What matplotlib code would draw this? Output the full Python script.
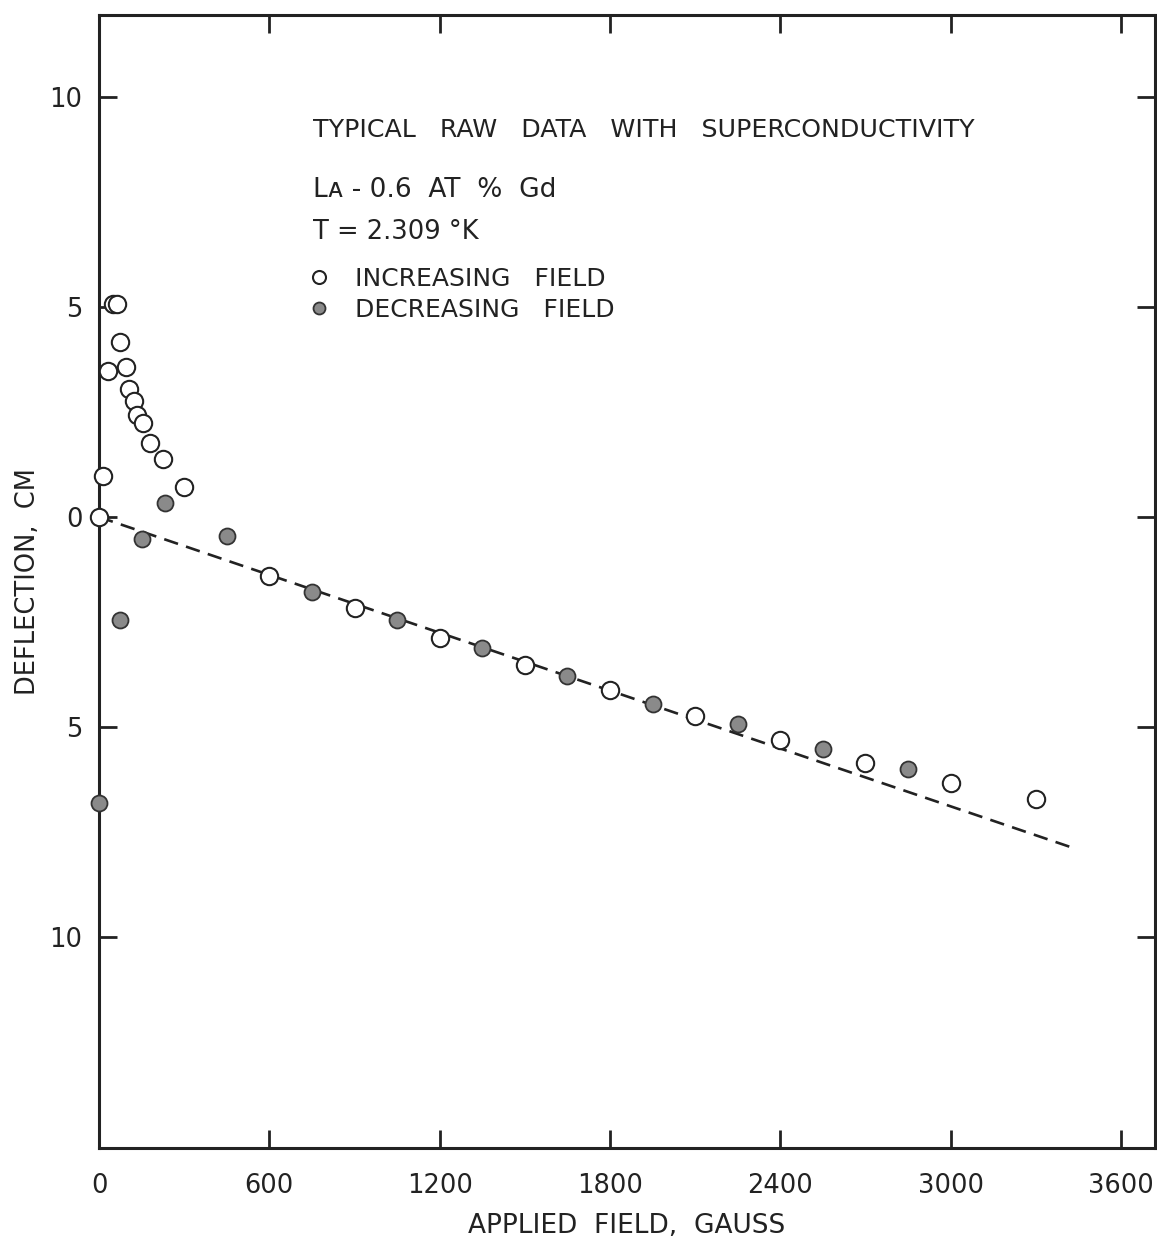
#!/usr/bin/env python
# -*- coding: utf-8 -*-

"""Typical raw data with superconductivity (La - 0.6 at % Gd, T = 2.309 K).

Deflection versus applied field for increasing and decreasing field,
with the dashed straight line through the normal-state points.
"""

import matplotlib
import matplotlib.pyplot as plt
import matplotlib.ticker

matplotlib.use("Agg")

# Increasing field (open circles).
inc_field = [0, 15, 33, 50, 65, 74, 94, 107, 123, 135, 154, 180, 225, 300,
             600, 900, 1200, 1500, 1800, 2100, 2400, 2700, 3000, 3300]
inc_defl = [0.0, 0.98, 3.48, 5.07, 5.07, 4.16, 3.56, 3.06, 2.76, 2.43, 2.25,
            1.77, 1.38, 0.72, -1.40, -2.16, -2.87, -3.52, -4.12, -4.74,
            -5.31, -5.86, -6.32, -6.72]

# Decreasing field (filled circles).
dec_field = [0, 74, 150, 233, 450, 750, 1050, 1350, 1650, 1950, 2250, 2550,
             2850]
dec_defl = [-6.80, -2.45, -0.53, 0.33, -0.44, -1.78, -2.44, -3.11, -3.78,
            -4.46, -4.93, -5.52, -6.00]

# Dashed straight line.
fit_field = [0, 3420]
fit_defl = [0.0, -7.85]

xticks = [0, 600, 1200, 1800, 2400, 3000, 3600]
yticks = [-10, -5, 0, 5, 10]


def main(output="out.png"):
    plt.rcParams["font.family"] = ["DejaVu Sans"]
    ink = "#222222"

    fig = plt.figure(figsize=(11.57, 12.43), dpi=100)
    ax = fig.add_axes([0.0856, 0.0764, 0.9127, 0.9115])

    ax.plot(fit_field, fit_defl, linestyle=(0, (5.5, 3.2)), color=ink,
            linewidth=1.9, zorder=1)
    ax.plot(inc_field, inc_defl, linestyle="none", marker="o",
            markersize=12.5, markerfacecolor="white", markeredgecolor=ink,
            markeredgewidth=1.5, label="INCREASING   FIELD", zorder=3,
            clip_on=False)
    ax.plot(dec_field, dec_defl, linestyle="none", marker="o",
            markersize=11.5, markerfacecolor="#8a8a8a",
            markeredgecolor="#333333", markeredgewidth=1.3,
            label="DECREASING   FIELD", zorder=3, clip_on=False)

    ax.set_xlim(0, 3720)
    ax.set_ylim(-15.02, 11.95)
    ax.set_xticks(xticks)
    ax.set_yticks(yticks)
    ax.yaxis.set_major_formatter(
        matplotlib.ticker.FuncFormatter(lambda v, pos: "%d" % abs(v)))
    ax.tick_params(direction="in", length=13, width=2, color=ink,
                   top=True, right=True, labelsize=18.5, labelcolor=ink)
    ax.tick_params(axis="x", pad=18)
    ax.tick_params(axis="y", pad=12)
    for spine in ax.spines.values():
        spine.set_linewidth(2.2)
        spine.set_color(ink)

    ax.set_xlabel("APPLIED  FIELD,  GAUSS", fontsize=19, color=ink,
                  labelpad=10)
    ax.set_ylabel("DEFLECTION,  CM", fontsize=18.5, color=ink, labelpad=6)

    ax.text(755, 9.21, "TYPICAL   RAW   DATA   WITH   SUPERCONDUCTIVITY",
            fontsize=18.2, color=ink, va="center", ha="left")
    ax.text(755, 7.79, "L\u1d00 - 0.6  AT  %  Gd", fontsize=19, color=ink,
            va="center", ha="left")
    ax.text(755, 6.79, "T = 2.309 \u00b0K", fontsize=18.5, color=ink,
            va="center", ha="left")

    ax.legend(loc="upper left", bbox_to_anchor=(0.196, 0.778), frameon=False,
              fontsize=18, labelcolor=ink, handlelength=1.0,
              handletextpad=0.95, labelspacing=0.28, borderpad=0.0,
              borderaxespad=0.0, markerscale=0.75)

    fig.savefig(output, dpi=100, facecolor="white")
    plt.close(fig)


if __name__ == "__main__":
    main()
